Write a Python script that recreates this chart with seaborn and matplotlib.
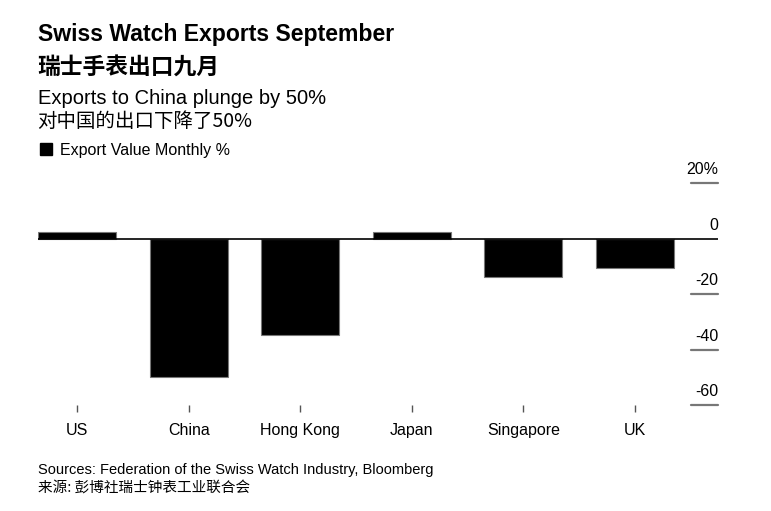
import matplotlib
matplotlib.use('Agg')
import matplotlib.pyplot as plt
from matplotlib.patches import Patch
import seaborn as sns
import pandas as pd

countries = ['US', 'China', 'Hong Kong', 'Japan', 'Singapore', 'UK']
change = [2.5, -49.8, -34.7, 2.2, -13.7, -10.8]
y_ticks = [20, 0, -20, -40, -60]
y_labels = ['20%', '0', '-20', '-40', '-60']

df = pd.DataFrame({'country': countries, 'change': change})

sns.set_style('white')
plt.rcParams['font.family'] = ['Liberation Sans', 'Noto Sans CJK SC', 'DejaVu Sans']
plt.rcParams['text.color'] = 'black'
plt.rcParams['xtick.labelcolor'] = 'black'
cjk = ['Noto Sans CJK SC', 'DejaVu Sans']

fig = plt.figure(figsize=(7.71, 5.11), dpi=100)
ax = fig.add_axes([38/771, 1 - 405/511, 680/771, 222/511])

sns.barplot(data=df, x='country', y='change', color='black', width=0.7,
            edgecolor='#777777', linewidth=0.8, saturation=1, ax=ax)

ax.set_xlim(-0.35, 5.744)
ax.set_ylim(-60, 20)
ax.set_xlabel('')
ax.set_ylabel('')
ax.set_yticks([])
for s in ax.spines.values():
    s.set_visible(False)

ax.axhline(0, color='black', lw=1.2, zorder=3)
for v, lab in zip(y_ticks, y_labels):
    if v != 0:
        ax.axhline(v, xmin=0.96, xmax=1, color='#777777', lw=1.6, clip_on=False)
    ax.annotate(lab, xy=(1, v), xycoords=ax.get_yaxis_transform(),
                xytext=(0, 4), textcoords='offset points',
                ha='right', va='bottom', fontsize=11.5, color='black')

ax.tick_params(axis='x', length=5, width=1, color='#555555', pad=8,
               labelsize=11.5, labelcolor='black', bottom=True)

fig.text(38/771, 1 - 34/511, 'Swiss Watch Exports September', fontsize=16.6,
         fontweight='bold', va='center')
fig.text(37/771, 1 - 68/511, '瑞士手表出口九月', fontsize=16.4, fontweight='bold',
         va='center', family=cjk)
fig.text(38/771, 1 - 98/511, 'Exports to China plunge by 50%', fontsize=14.5,
         va='center')
fig.text(37/771, 1 - 121/511, '对中国的出口下降了50%', fontsize=14, va='center',
         family=cjk)
fig.legend(handles=[Patch(color='black', label='Export Value Monthly %')],
           loc='center left', bbox_to_anchor=(34/771, 1 - 150/511),
           frameon=False, fontsize=11.5, handlelength=0.75, handleheight=0.75,
           handletextpad=0.5, borderaxespad=0)

fig.text(38/771, 1 - 470/511, 'Sources: Federation of the Swiss Watch Industry, Bloomberg',
         fontsize=10.5, va='center')
fig.text(38/771, 1 - 488/511, '来源: 彭博社瑞士钟表工业联合会', fontsize=10.5,
         va='center', family=cjk)

fig.savefig('out.png', dpi=100)
